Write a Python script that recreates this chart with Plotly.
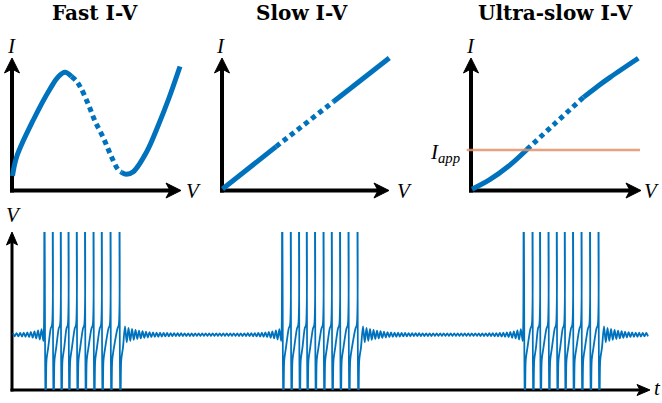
import numpy as np
import plotly.graph_objects as go

W, H = 662, 403
BLUE = "#0072BD"
ORANGE = "#E3906B"

# ---------------- data: I-V curves (V, I in arbitrary units) ----------------
fast_solid1_V = [0.29, 2.76, 12.53, 22.35, 27.35, 31.18, 35.0]
fast_solid1_I = [10.94, 25.51, 53.21, 76.60, 86.04, 89.21, 86.04]
fast_dotted_V = [35.0, 37.65, 40.41, 44.88, 48.82, 53.71, 58.06, 62.53, 64.41]
fast_dotted_I = [86.04, 83.02, 77.58, 65.06, 52.45, 39.85, 26.79, 15.47, 13.74]
fast_solid2_V = [64.41, 67.35, 71.35, 79.24, 85.88, 92.35, 98.82]
fast_solid2_I = [13.74, 12.30, 14.19, 29.28, 48.68, 69.81, 93.58]

slow_solid1_V = [0.3, 31.8]
slow_solid1_I = [1.1, 33.1]
slow_dotted_V = [31.8, 65.5]
slow_dotted_I = [33.1, 67.0]
slow_solid2_V = [65.5, 98.4]
slow_solid2_I = [67.0, 100.0]

uslow_solid1_V = [0.6, 11.0, 22.0, 32.8]
uslow_solid1_I = [1.0, 8.2, 18.3, 30.8]
uslow_dotted_V = [32.8, 49.4, 66.1]
uslow_dotted_I = [30.8, 50.6, 70.3]
uslow_solid2_V = [66.1, 74.0, 81.8, 98.4]
uslow_solid2_I = [70.3, 78.2, 85.4, 99.8]
I_app = 30.6
I_app_V = [-2.5, 99.4]

# ---------------- data: bursting voltage trace ----------------
burst1_spikes = [128, 160, 192, 223, 256, 289, 323, 356, 391, 427]      # ms
burst2_spikes = [1079, 1112, 1145, 1176, 1209, 1243, 1276, 1309, 1343, 1379]
burst3_spikes = [2045, 2079, 2109, 2143, 2176, 2208, 2241, 2275, 2309, 2343]
t_first, t_last = 4, 2544
V_rest = -45.0
ripple_period = 14.0
ripple_amp_base = 0.8
ripple_amp_post, ripple_tau_post = 4.5, 60.0
ripple_amp_pre, ripple_tau_pre = 3.2, 40.0
# spike waveform: (ms after upstroke, mV)
spike_shape_t = [0.0, 1.5, 6.0, 8.0, 10.0, 17.0]
spike_shape_V = [-39.0, 70.0, -115.0, -78.0, -61.0, -53.0]
pre_spike_t, pre_spike_V = -5.0, -41.0

bursts = [burst1_spikes, burst2_spikes, burst3_spikes]
tt, vv = [], []


def amp(t, t_after, t_before):
    a = ripple_amp_base
    if t_after is not None:
        a += ripple_amp_post * np.exp(-(t - t_after) / ripple_tau_post)
    if t_before is not None:
        a += ripple_amp_pre * np.exp(-(t_before - t) / ripple_tau_pre)
    return a


def add_ripple(ta, tb, t_after, t_before):
    n = max(1, int(round((tb - ta) / (ripple_period / 2))))
    if n % 2 == 0:
        n += 1
    for k in range(n + 1):
        t = ta + (tb - ta) * k / n
        s = 1 if k % 2 == 0 else -1
        tt.append(t)
        vv.append(V_rest + s * amp(t, t_after, t_before))


for bi, burst in enumerate(bursts):
    after = bursts[bi - 1][-1] + 25 if bi > 0 else None
    start = after if after is not None else t_first
    add_ripple(start, burst[0] - 2.5, after, burst[0] - 2.5)
    for i, s in enumerate(burst):
        if i > 0:
            tt.append(s + pre_spike_t)
            vv.append(pre_spike_V)
        for dt, v in zip(spike_shape_t, spike_shape_V):
            tt.append(s + dt)
            vv.append(v)
add_ripple(bursts[-1][-1] + 25, t_last, bursts[-1][-1] + 25, None)

# ---------------- layout helpers (pixel boxes) ----------------
def dom_x(p0, p1):
    return [p0 / W, p1 / W]


def dom_y(top, bot):
    return [1 - bot / H, 1 - top / H]


def px(x):
    return x / W


def py(y):
    return 1 - y / H


fig = go.Figure()

panels = [
    # (axis suffix, px_left, px_right, origin_x)
    ("", 0, 205, 12),
    ("2", 210, 420, 222),
    ("3", 430, 662, 471),
]
SX, SY = 1.7, 1.325          # px per unit
OY = 190.5
TOP, BOT = 30, 200

curves = [
    [(fast_solid1_V, fast_solid1_I, "solid"), (fast_dotted_V, fast_dotted_I, "dot"),
     (fast_solid2_V, fast_solid2_I, "solid")],
    [(slow_solid1_V, slow_solid1_I, "solid"), (slow_dotted_V, slow_dotted_I, "dot"),
     (slow_solid2_V, slow_solid2_I, "solid")],
    [(uslow_solid1_V, uslow_solid1_I, "solid"), (uslow_dotted_V, uslow_dotted_I, "dot"),
     (uslow_solid2_V, uslow_solid2_I, "solid")],
]

layout_axes = {}
for (suf, l, r, ox), segs in zip(panels, curves):
    xa, ya = "x" + suf, "y" + suf
    for xs, ys, dash in segs:
        fig.add_trace(go.Scatter(
            x=xs, y=ys, mode="lines", xaxis=xa, yaxis=ya, showlegend=False,
            line=dict(color=BLUE, width=5, shape="spline", smoothing=1,
                      dash="5px,4px" if dash == "dot" else "solid"),
            hoverinfo="skip"))
    layout_axes["xaxis" + suf] = dict(domain=dom_x(l, r), range=[(l - ox) / SX, (r - ox) / SX],
                                      visible=False, fixedrange=True, anchor="y" + suf)
    layout_axes["yaxis" + suf] = dict(domain=dom_y(TOP, BOT),
                                      range=[(OY - BOT) / SY, (OY - TOP) / SY],
                                      visible=False, fixedrange=True, anchor="x" + suf)

# I_app line
fig.add_trace(go.Scatter(x=I_app_V, y=[I_app, I_app], mode="lines", xaxis="x3", yaxis="y3",
                         line=dict(color=ORANGE, width=2.5), opacity=0.85,
                         showlegend=False, hoverinfo="skip"))

# bottom panel: t in ms -> 0.25 px/ms, origin x=12 ; V: -80 at y=390, 20 at y=232
B_L, B_R, B_TOP, B_BOT = 5, 657, 232, 390
fig.add_trace(go.Scatter(x=tt, y=vv, mode="lines", xaxis="x4", yaxis="y4", showlegend=False,
                         line=dict(color=BLUE, width=1.8, shape="spline", smoothing=0.8),
                         hoverinfo="skip"))
layout_axes["xaxis4"] = dict(domain=dom_x(B_L, B_R), range=[(B_L - 12) * 4, (B_R - 12) * 4],
                             visible=False, fixedrange=True, anchor="y4")
layout_axes["yaxis4"] = dict(domain=dom_y(B_TOP, B_BOT), range=[-80, 20],
                             visible=False, fixedrange=True, anchor="x4")

# ---------------- axes arrows (line shapes + filled stealth-head path shapes) ----------------
shapes = []
annotations = []


def path_from(points):
    s = "M " + " L ".join(f"{px(x):.5f},{py(y):.5f}" for x, y in points) + " Z"
    return s


def arrow_axes(ox, oy, xtip, ytip, lw, L, w, notch):
    h = lw / 2
    # shafts
    shapes.append(dict(type="line", xref="paper", yref="paper", layer="below",
                       x0=px(ox), y0=py(oy + h), x1=px(ox), y1=py(ytip + L - notch),
                       line=dict(color="black", width=lw)))
    shapes.append(dict(type="line", xref="paper", yref="paper", layer="below",
                       x0=px(ox - h), y0=py(oy), x1=px(xtip - L + notch), y1=py(oy),
                       line=dict(color="black", width=lw)))
    # heads
    up = [(ox, ytip), (ox + w, ytip + L), (ox, ytip + L - notch), (ox - w, ytip + L)]
    right = [(xtip, oy), (xtip - L, oy - w), (xtip - L + notch, oy), (xtip - L, oy + w)]
    for pts in (up, right):
        shapes.append(dict(type="path", xref="paper", yref="paper", path=path_from(pts),
                           fillcolor="black", line=dict(color="black", width=1)))


arrow_axes(12, OY, 181, 58, 4, 15, 7.5, 4)
arrow_axes(222, OY, 389, 58, 4, 15, 7.5, 4)
arrow_axes(471, OY, 641, 58, 4, 15, 7.5, 4)
arrow_axes(12, 390, 650, 232, 3, 13, 5.5, 3)

TITLE_FONT = dict(family="DejaVu Serif", size=20, color="black")
LABEL_FONT = dict(family="Liberation Serif", size=21, color="black")


def text(x, y, s, font, xanchor="center"):
    annotations.append(dict(xref="paper", yref="paper", x=px(x), y=py(y), text=s,
                            showarrow=False, font=font, xanchor=xanchor, yanchor="middle"))


text(95, 13, "<b>Fast I-V</b>", TITLE_FONT)
text(302, 13, "<b>Slow I-V</b>", TITLE_FONT)
text(555, 13, "<b>Ultra-slow I-V</b>", TITLE_FONT)
for x in (11, 220, 470):
    text(x, 46, "<i>I</i>", LABEL_FONT)
for x in (193, 404, 651):
    text(x, 191, "<i>V</i>", LABEL_FONT)
text(13, 215, "<i>V</i>", LABEL_FONT)
text(657, 388, "<i>t</i>", LABEL_FONT)
text(462, 153, "<i>I</i><sub><i>app</i></sub>", LABEL_FONT, xanchor="right")

fig.update_layout(
    width=W, height=H, margin=dict(l=0, r=0, t=0, b=0),
    paper_bgcolor="white", plot_bgcolor="white",
    shapes=shapes, annotations=annotations, **layout_axes)

fig.write_html("out.html", config={"displayModeBar": False, "staticPlot": True},
               post_script="document.body.style.margin='0';document.body.style.padding='0';")
